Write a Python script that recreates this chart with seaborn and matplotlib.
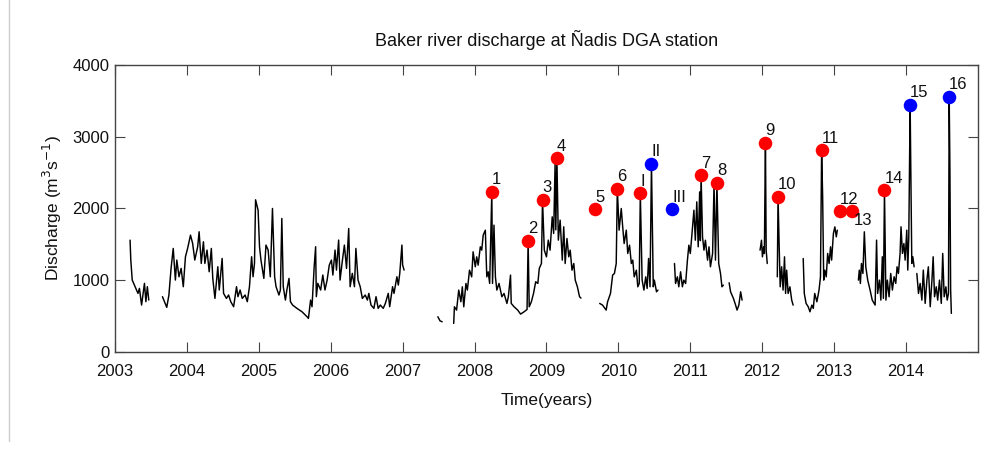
import numpy as np
import pandas as pd
import matplotlib
matplotlib.use("Agg")
import matplotlib.pyplot as plt
import seaborn as sns
from matplotlib.lines import Line2D

# ---------------- data ----------------
segA_year = [2003.21, 2003.22, 2003.24, 2003.28, 2003.32, 2003.34, 2003.37, 2003.41, 2003.43, 2003.45, 2003.47]
segA_q = [1557, 1279, 1000, 907, 814, 884, 651, 954, 698, 907, 721]

segB_year = [2003.66, 2003.72, 2003.75, 2003.78, 2003.81, 2003.84, 2003.86, 2003.89, 2003.92, 2003.95,
             2003.98, 2004.01, 2004.05, 2004.08, 2004.11, 2004.15, 2004.17, 2004.20, 2004.23, 2004.25,
             2004.28, 2004.31, 2004.34, 2004.36, 2004.39, 2004.43, 2004.45, 2004.49, 2004.51, 2004.55,
             2004.58, 2004.61, 2004.65, 2004.69, 2004.71, 2004.74, 2004.77, 2004.81, 2004.84, 2004.87,
             2004.90, 2004.92, 2004.94, 2004.955, 2004.99, 2005.01, 2005.03, 2005.07, 2005.10, 2005.13,
             2005.16, 2005.19, 2005.22, 2005.24, 2005.28, 2005.30, 2005.32, 2005.34, 2005.37, 2005.39,
             2005.42, 2005.44, 2005.47, 2005.53, 2005.60, 2005.67, 2005.69, 2005.72, 2005.74, 2005.77,
             2005.79, 2005.80, 2005.82, 2005.86, 2005.89, 2005.92, 2005.95, 2005.98, 2006.01, 2006.03,
             2006.06, 2006.08, 2006.11, 2006.13, 2006.16, 2006.19, 2006.22, 2006.25, 2006.27, 2006.30,
             2006.33, 2006.35, 2006.38, 2006.41, 2006.44, 2006.48, 2006.51, 2006.53, 2006.56, 2006.60,
             2006.63, 2006.66, 2006.69, 2006.73, 2006.76, 2006.80, 2006.82, 2006.86, 2006.88, 2006.92,
             2006.94, 2006.96, 2006.99, 2007.00, 2007.02]
segB_q = [768, 619, 791, 1163, 1441, 1000, 1279, 1046, 1163, 907,
          1325, 1441, 1627, 1511, 1279, 1465, 1674, 1232, 1534, 1232,
          1418, 1116, 1441, 1023, 744, 1186, 861, 1302, 814, 744,
          791, 698, 628, 907, 768, 861, 744, 791, 698, 907,
          1325, 1046, 1232, 2120, 1976, 1465, 1279, 1023, 1488, 1418,
          1046, 1999, 1046, 907, 791, 861, 1860, 907, 721, 861,
          1023, 698, 651, 605, 558, 489, 465, 721, 628, 1186,
          1465, 768, 954, 861, 1070, 861, 1000, 1209, 1279, 1070,
          1418, 1139, 1558, 1000, 1255, 1488, 1163, 1720, 907, 1093,
          907, 1441, 1000, 907, 744, 791, 721, 814, 651, 605,
          768, 605, 651, 605, 675, 814, 628, 907, 814, 1046,
          930, 1093, 1488, 1209, 1139]

segC0_year = [2007.49, 2007.52, 2007.55]
segC0_q = [488, 430, 418]

segC_year = [2007.71, 2007.72, 2007.75, 2007.78, 2007.81, 2007.83, 2007.85, 2007.88, 2007.90, 2007.93,
             2007.96, 2007.98, 2008.01, 2008.03, 2008.05, 2008.08, 2008.10, 2008.12, 2008.15, 2008.17,
             2008.19, 2008.21, 2008.24, 2008.25, 2008.27, 2008.29, 2008.31, 2008.34, 2008.38, 2008.41,
             2008.45, 2008.47, 2008.50, 2008.51, 2008.55, 2008.60, 2008.64, 2008.69, 2008.73, 2008.745,
             2008.76, 2008.79, 2008.82, 2008.85, 2008.88, 2008.90, 2008.93, 2008.945, 2008.97, 2009.00,
             2009.025, 2009.05, 2009.08, 2009.10, 2009.12, 2009.13, 2009.145, 2009.165, 2009.19, 2009.22,
             2009.24, 2009.26, 2009.285, 2009.31, 2009.33, 2009.355, 2009.38, 2009.40, 2009.43, 2009.46,
             2009.48]
segC_q = [395, 627, 581, 860, 697, 906, 627, 953, 860, 1138,
          1045, 1394, 1185, 1324, 1208, 1464, 1417, 1626, 1696, 1045,
          1115, 953, 2230, 953, 1766, 1045, 860, 953, 767, 813,
          674, 767, 1069, 674, 627, 581, 525, 558, 590, 1550,
          627, 697, 813, 976, 953, 1162, 1231, 2120, 1417, 1324,
          1557, 1417, 1882, 1650, 2625, 1700, 2700, 1557, 1836, 1278,
          1743, 1231, 1580, 1324, 1417, 1138, 1231, 999, 906, 767,
          748]

segD_year = [2009.74, 2009.78, 2009.83, 2009.85, 2009.89, 2009.92, 2009.945, 2009.97, 2009.985, 2010.01,
             2010.04, 2010.06, 2010.08, 2010.11, 2010.13, 2010.155, 2010.18, 2010.20, 2010.22, 2010.25,
             2010.27, 2010.29, 2010.305, 2010.33, 2010.355, 2010.38, 2010.40, 2010.42, 2010.44, 2010.46,
             2010.485, 2010.50, 2010.53, 2010.55]
segD_q = [674, 650, 581, 697, 813, 1069, 1092, 1231, 2277, 1696,
          1998, 1742, 1510, 1696, 1371, 1487, 1231, 1278, 1045, 1138,
          906, 952, 2210, 999, 860, 1045, 883, 1301, 906, 2625,
          906, 999, 836, 860]

segE_year = [2010.78, 2010.795, 2010.82, 2010.84, 2010.865, 2010.89, 2010.91, 2010.935, 2010.96, 2010.98,
             2011.00, 2011.02, 2011.05, 2011.07, 2011.09, 2011.11, 2011.13, 2011.14, 2011.15, 2011.17,
             2011.19, 2011.21, 2011.24, 2011.26, 2011.28, 2011.31, 2011.33, 2011.35, 2011.37, 2011.395,
             2011.42, 2011.44, 2011.46]
segE_q = [1231, 952, 1045, 906, 1115, 906, 999, 952, 1278, 1487,
          1371, 1603, 1975, 1556, 2091, 1464, 2230, 1550, 2462, 1603,
          1417, 1556, 1278, 1464, 1185, 1371, 2346, 1278, 2360, 1231,
          1092, 906, 929]

segF_year = [2011.54, 2011.56, 2011.60, 2011.63, 2011.65, 2011.675, 2011.70, 2011.72]
segF_q = [962, 836, 743, 650, 581, 650, 836, 720]

segG_year = [2011.97, 2011.99, 2012.003, 2012.02, 2012.03, 2012.037, 2012.045, 2012.055, 2012.07]
segG_q = [1417, 1556, 1324, 1464, 1371, 2137, 2913, 1417, 1231]

segH_year = [2012.21, 2012.22, 2012.236, 2012.25, 2012.27, 2012.29, 2012.31, 2012.325, 2012.34, 2012.36,
             2012.385, 2012.41, 2012.43]
segH_q = [1045, 2160, 1464, 906, 1185, 860, 1324, 813, 1138, 813, 906, 720, 650]

segI_year = [2012.57, 2012.585, 2012.61, 2012.64, 2012.664, 2012.69, 2012.71, 2012.73, 2012.76, 2012.79,
             2012.81, 2012.826, 2012.84, 2012.855, 2012.87, 2012.89, 2012.91, 2012.93, 2012.95, 2012.965,
             2012.99, 2013.01, 2013.03, 2013.044]
segI_q = [1301, 813, 674, 627, 557, 650, 604, 813, 697, 860,
          1045, 2811, 2184, 999, 1138, 1045, 1371, 1231, 1464, 1278,
          1650, 1742, 1603, 1696]

segJ_year = [2013.337, 2013.35, 2013.365, 2013.38, 2013.40, 2013.42, 2013.44, 2013.467, 2013.50, 2013.53,
             2013.57, 2013.59, 2013.605, 2013.63, 2013.65, 2013.67, 2013.685, 2013.70, 2013.72, 2013.74,
             2013.764, 2013.787, 2013.81, 2013.834, 2013.857, 2013.875, 2013.894, 2013.917, 2013.93, 2013.95,
             2013.97, 2013.987, 2014.01, 2014.024, 2014.038, 2014.057, 2014.066, 2014.08, 2014.094, 2014.112]
segJ_q = [999, 1138, 952, 1231, 1092, 1673, 1185, 999, 860, 720,
          651, 1557, 813, 999, 720, 1325, 744, 2254, 720, 999,
          767, 1092, 860, 1046, 953, 1185, 1092, 1371, 1743, 1371,
          1510, 1278, 1696, 1139, 1603, 3448, 2556, 1232, 1325, 1185]

segK_year = [2014.15, 2014.173, 2014.196, 2014.22, 2014.24, 2014.266, 2014.29, 2014.31, 2014.336, 2014.36,
             2014.377, 2014.396, 2014.42, 2014.44, 2014.465, 2014.49, 2014.51, 2014.53, 2014.554, 2014.572,
             2014.59, 2014.60, 2014.61, 2014.62, 2014.63]
segK_q = [1092, 813, 953, 720, 1139, 674, 999, 1185, 628, 999,
          1325, 767, 906, 720, 999, 674, 1371, 767, 906, 720,
          813, 3555, 2533, 860, 535]

red_year = [2008.24, 2008.745, 2008.945, 2009.145, 2009.68, 2009.985, 2010.305, 2011.15, 2011.37,
            2012.045, 2012.22, 2012.826, 2013.08, 2013.25, 2013.70]
red_q = [2230, 1550, 2120, 2700, 1990, 2277, 2210, 2462, 2360, 2913, 2160, 2811, 1958, 1958, 2254]
red_labels = ["1", "2", "3", "4", "5", "6", "I", "7", "8", "9", "10", "11", "12", "13", "14"]

blue_year = [2010.46, 2010.75, 2014.057, 2014.60]
blue_q = [2625, 1990, 3448, 3555]
blue_labels = ["II", "III", "15", "16"]

year_ticks = list(range(2003, 2015))
q_ticks = [0, 1000, 2000, 3000, 4000]

# ---------------- assemble ----------------
segments = [(segA_year, segA_q), (segB_year, segB_q), (segC0_year, segC0_q), (segC_year, segC_q),
            (segD_year, segD_q), (segE_year, segE_q), (segF_year, segF_q), (segG_year, segG_q),
            (segH_year, segH_q), (segI_year, segI_q), (segJ_year, segJ_q), (segK_year, segK_q)]
rows = []
for i, (ys, qs) in enumerate(segments):
    for y, q in zip(ys, qs):
        rows.append({"year": y, "Q": q, "seg": i})
series = pd.DataFrame(rows)
red_df = pd.DataFrame({"year": red_year, "Q": red_q, "label": red_labels})
blue_df = pd.DataFrame({"year": blue_year, "Q": blue_q, "label": blue_labels})

# ---------------- plot ----------------
sns.set_style("white")
plt.rcParams["font.family"] = ["Liberation Sans", "DejaVu Sans"]

fig = plt.figure(figsize=(10.05, 4.55), dpi=100)
ax = fig.add_axes([0.1144, 0.227, 0.8587, 0.630])

sns.lineplot(data=series, x="year", y="Q", units="seg", estimator=None,
             color="black", linewidth=1.05, ax=ax, legend=False)
sns.scatterplot(data=red_df, x="year", y="Q", color="#ff0000", s=95, linewidth=0,
                ax=ax, legend=False, zorder=5)
sns.scatterplot(data=blue_df, x="year", y="Q", color="#0000ff", s=95, linewidth=0,
                ax=ax, legend=False, zorder=5)

for df in (red_df, blue_df):
    for _, r in df.iterrows():
        if r["label"] == "13":
            off = (2, -9)
        else:
            off = (0, 12)
        ax.annotate(r["label"], (r["year"], r["Q"]), xytext=off, textcoords="offset pixels",
                    ha="left", va="center", fontsize=12, color="#111111", zorder=6)

ax.set_xlim(2003, 2015)
ax.set_ylim(0, 4000)
ax.set_xticks(year_ticks)
ax.set_xticklabels([str(y) for y in year_ticks])
ax.set_yticks(q_ticks)
ax.tick_params(direction="in", length=7, width=0.8, top=True, right=True, bottom=True, left=True,
               labelsize=12, labelcolor="#111111", color="#444444")
ax.tick_params(axis="x", pad=9)
ax.tick_params(axis="y", pad=4)
for sp in ax.spines.values():
    sp.set_visible(True)
    sp.set_color("#444444")
    sp.set_linewidth(1.0)

ax.set_title("Baker river discharge at Ñadis DGA station", fontsize=13, pad=14, color="#111111")
ax.set_xlabel("Time(years)", fontsize=12.5, labelpad=10, color="#111111")
ax.set_ylabel("Discharge (m$^3$s$^{-1}$)", fontsize=12.5, labelpad=6, color="#111111")

fig.add_artist(Line2D([0.009, 0.009], [0.03, 1.0], transform=fig.transFigure,
                      color="#cccccc", linewidth=1.0))

fig.savefig("out.png", dpi=100)
